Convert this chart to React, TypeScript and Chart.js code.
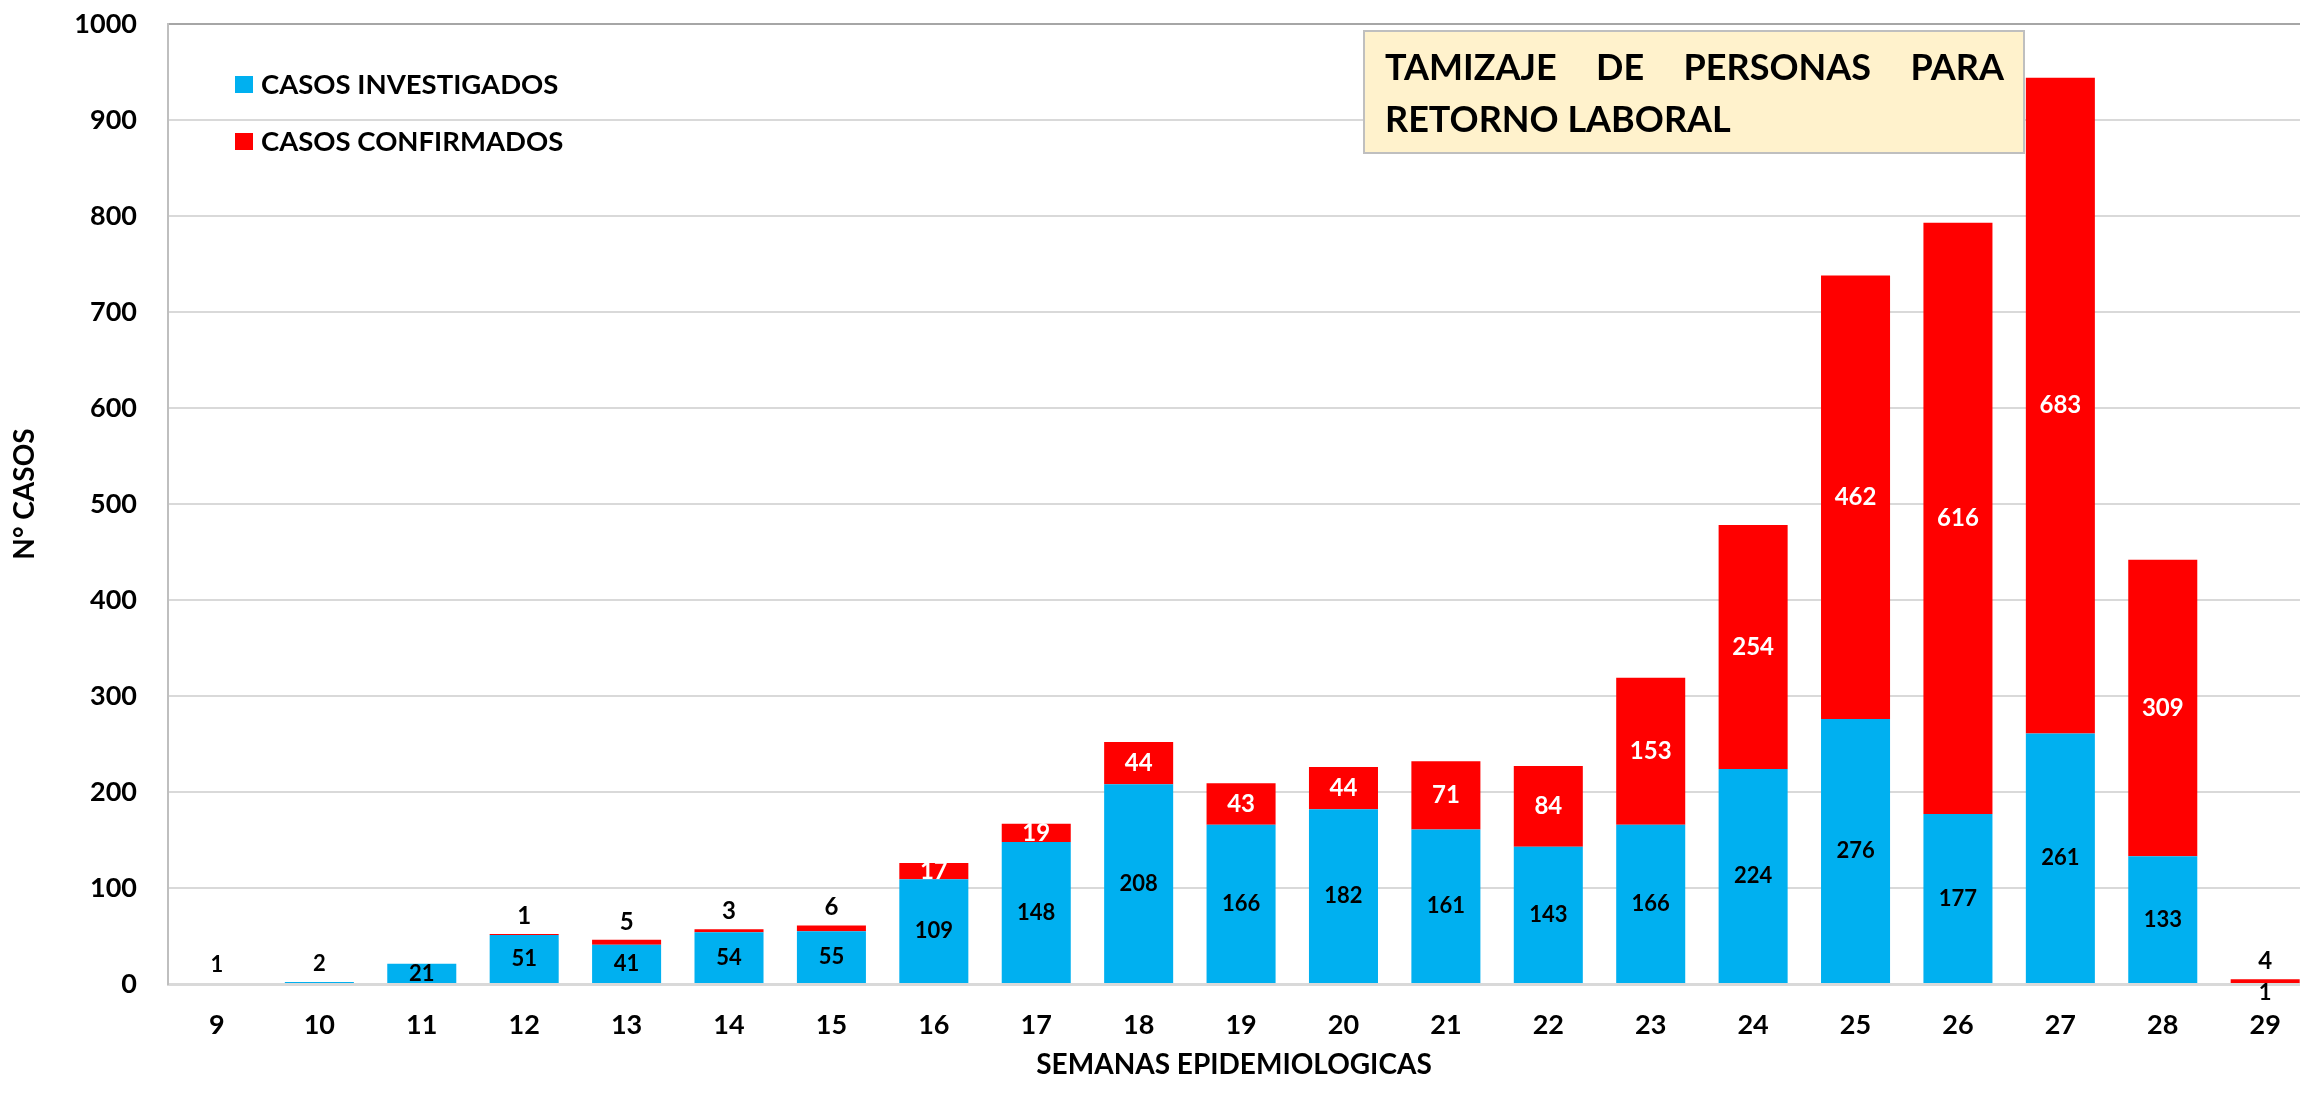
import React, { useEffect, useRef } from "react";
import { Chart, registerables } from "chart.js";

Chart.register(...registerables);

const FONT = "Lato, 'Open Sans', sans-serif";

const weeks = [9, 10, 11, 12, 13, 14, 15, 16, 17, 18, 19, 20, 21, 22, 23, 24, 25, 26, 27, 28, 29];
const investigados = [1, 2, 21, 51, 41, 54, 55, 109, 148, 208, 166, 182, 161, 143, 166, 224, 276, 177, 261, 133, 1];
const confirmados = [0, 0, 0, 1, 5, 3, 6, 17, 19, 44, 43, 44, 71, 84, 153, 254, 462, 616, 683, 309, 4];
const seriesNames = ["CASOS INVESTIGADOS", "CASOS CONFIRMADOS"];
const seriesColors = ["#00B0F0", "#FF0000"];
const titleLines = ["TAMIZAJE DE PERSONAS PARA", "RETORNO LABORAL"];
const xTitle = "SEMANAS EPIDEMIOLOGICAS";
const yTitle = "N° CASOS";
const yMin = 0;
const yMax = 1000;
const yStep = 100;

const valueLabels = {
  id: "valueLabels",
  afterDatasetsDraw(chart: any) {
    const ctx = chart.ctx;
    const m0 = chart.getDatasetMeta(0);
    const m1 = chart.getDatasetMeta(1);
    ctx.save();
    ctx.textAlign = "center";
    ctx.textBaseline = "middle";
    m0.data.forEach((bar: any, i: number) => {
      const v = investigados[i];
      const { x, y, base } = bar.getProps(["x", "y", "base"], true);
      ctx.fillStyle = "#000";
      ctx.font = `bold 22px ${FONT}`;
      if (v >= 10) {
        ctx.fillText(String(v), x, (y + base) / 2);
      } else if (confirmados[i] > 0) {
        ctx.fillText(String(v), x, base + 10);
      } else {
        ctx.fillText(String(v), x, y - 18);
      }
    });
    m1.data.forEach((bar: any, i: number) => {
      const v = confirmados[i];
      if (!v) return;
      const { x, y, base } = bar.getProps(["x", "y", "base"], true);
      ctx.font = `bold 24px ${FONT}`;
      if (v >= 10) {
        ctx.fillStyle = "#fff";
        ctx.fillText(String(v), x, (y + base) / 2);
      } else {
        ctx.fillStyle = "#000";
        ctx.fillText(String(v), x, y - 18);
      }
    });
    ctx.restore();
  },
};

const overlay = {
  id: "overlay",
  afterDraw(chart: any) {
    const ctx = chart.ctx;
    const area = chart.chartArea;
    ctx.save();
    // y axis title
    ctx.save();
    ctx.translate(25, 494);
    ctx.rotate(-Math.PI / 2);
    ctx.textAlign = "center";
    ctx.textBaseline = "middle";
    ctx.fillStyle = "#000";
    ctx.font = `bold 28px ${FONT}`;
    ctx.fillText(yTitle, 0, 0);
    ctx.restore();
    // legend inside plot
    ctx.textBaseline = "middle";
    ctx.textAlign = "left";
    ctx.font = `bold 27.5px ${FONT}`;
    const lx = area.left + 67;
    const ly = [84, 141];
    seriesNames.forEach((name, i) => {
      ctx.fillStyle = seriesColors[i];
      ctx.fillRect(lx, ly[i] - 8, 18, 17);
      ctx.fillStyle = "#000";
      ctx.fillText(name, lx + 26, ly[i] + 1);
    });
    // title box
    const bx = 1364, by = 31, bw = 660, bh = 122;
    ctx.fillStyle = "#FFF2CC";
    ctx.fillRect(bx, by, bw, bh);
    ctx.strokeStyle = "#BFBFBF";
    ctx.lineWidth = 2;
    ctx.strokeRect(bx, by, bw, bh);
    ctx.fillStyle = "#000";
    ctx.font = `bold 36px ${FONT}`;
    const left = bx + 21;
    const right = bx + bw - 20;
    const words = titleLines[0].split(" ");
    const total = words.reduce((s, w) => s + ctx.measureText(w).width, 0);
    const gap = (right - left - total) / (words.length - 1);
    let x = left;
    words.forEach((w) => {
      ctx.fillText(w, x, by + 37);
      x += ctx.measureText(w).width + gap;
    });
    ctx.fillText(titleLines[1], left, by + 89);
    ctx.restore();
  },
};

export default function App() {
  const ref = useRef<HTMLCanvasElement | null>(null);
  useEffect(() => {
    if (!ref.current) return;
    const chart = new Chart(ref.current, {
      type: "bar",
      data: {
        datasets: [
          {
            label: seriesNames[0],
            data: weeks.map((w, i) => ({ x: w, y: investigados[i] })),
            backgroundColor: seriesColors[0],
            borderWidth: 0,
          },
          {
            label: seriesNames[1],
            data: weeks.map((w, i) => ({ x: w, y: confirmados[i] })),
            backgroundColor: seriesColors[1],
            borderWidth: 0,
          },
        ],
      },
      plugins: [valueLabels, overlay],
      options: {
        responsive: false,
        animation: false,
        layout: { padding: { top: 24, left: 0, right: 0, bottom: 0 } },
        datasets: { bar: { categoryPercentage: 1, barPercentage: 0.674 } } as any,
        plugins: { legend: { display: false }, tooltip: { enabled: false } },
        scales: {
          x: {
            type: "linear",
            stacked: true,
            offset: false,
            min: 8.522,
            max: 29.34,
            afterBuildTicks: (scale: any) => {
              scale.ticks = weeks.map((w) => ({ value: w }));
            },
            afterFit: (scale: any) => {
              scale.height = 112;
              scale.paddingLeft = 0;
              scale.paddingRight = 0;
            },
            grid: { display: false, drawTicks: false },
            border: { display: true, color: "#D9D9D9", width: 3 },
            ticks: {
              color: "#000",
              font: { family: FONT, size: 27, weight: "bold" },
              padding: 25,
              maxRotation: 0,
              autoSkip: false,
              callback: (v: any) => String(v),
            },
            title: {
              display: true,
              text: xTitle,
              color: "#000",
              font: { family: FONT, size: 28, weight: "bold" },
              padding: { top: 0, bottom: 14 },
            },
          },
          y: {
            stacked: true,
            min: yMin,
            max: yMax,
            afterFit: (scale: any) => {
              scale.width = 168;
              scale.paddingTop = 0;
              scale.paddingBottom = 0;
            },
            ticks: {
              stepSize: yStep,
              color: "#000",
              font: { family: FONT, size: 27, weight: "bold" },
              padding: 31,
              callback: (v: any) => String(v),
            },
            grid: {
              drawTicks: false,
              lineWidth: 2,
              color: (c: any) => (c.tick && c.tick.value === yMax ? "#A6A6A6" : "#D9D9D9"),
            },
            border: { display: true, color: "#BFBFBF", width: 2 },
            title: { display: false },
          },
        },
      },
    });
    return () => chart.destroy();
  }, []);
  return (
    <div style={{ position: "fixed", left: 0, top: 0, width: 2300, height: 1096, background: "#fff" }}>
      <canvas ref={ref} width={2300} height={1096} style={{ display: "block" }} />
    </div>
  );
}
